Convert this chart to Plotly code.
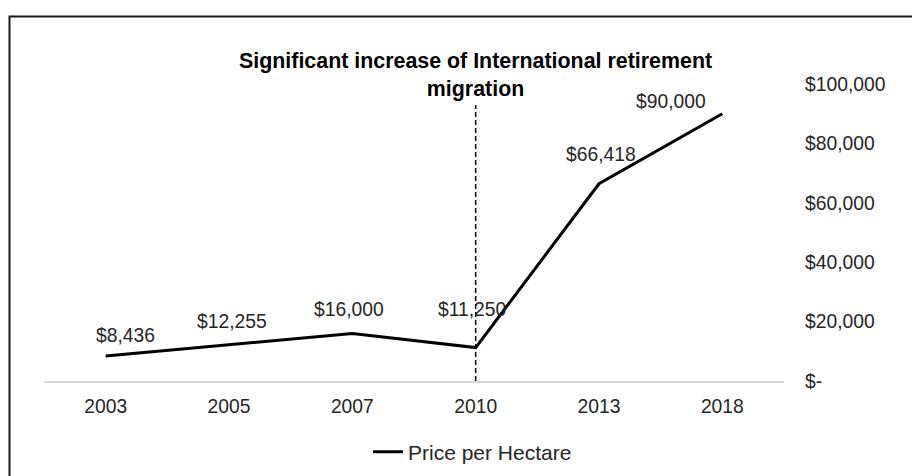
import plotly.graph_objects as go

years = ["2003", "2005", "2007", "2010", "2013", "2018"]
price = [8436, 12255, 16000, 11250, 66418, 90000]
y_ticks = [0, 20000, 40000, 60000, 80000, 100000]
y_tick_text = ["$-", "$20,000", "$40,000", "$60,000", "$80,000", "$100,000"]
series_name = "Price per Hectare"
title_text = "Significant increase of International retirement<br>migration"
marker_year = "2010"

# label offsets in pixels (style only)
label_dx = [20, 3, -3, -4, 2, -51]
label_dy = [20, 23, 24, 38, 29, 12]

FONT = "Liberation Sans, Arial, sans-serif"
TXT = "#262626"
FS = 19.3

W, H = 912, 476
L, R, T, B = 44, 128, 84, 95
pw, ph = W - L - R, H - T - B

def px_x(px):
    return (px - L) / pw

def px_y(py):
    return (H - B - py) / ph

xi = list(range(len(years)))
mi = years.index(marker_year)

fig = go.Figure()
fig.add_trace(go.Scatter(
    x=xi, y=price, mode="lines", name=series_name,
    line=dict(color="black", width=3),
    cliponaxis=False,
))

for x, v, dx, dy in zip(xi, price, label_dx, label_dy):
    fig.add_annotation(x=x, y=v, text=f"${v:,}", showarrow=False,
                       xshift=dx, yshift=dy, yanchor="middle",
                       font=dict(family=FONT, size=FS, color=TXT))

fig.add_annotation(x=mi, xref="x", y=px_y(74.5), yref="paper",
                   text=title_text, showarrow=False, yanchor="middle",
                   font=dict(family=FONT, size=21.4, color="black", weight="bold"))

fig.add_shape(type="line", xref="x", yref="paper", x0=mi, x1=mi,
              y0=0, y1=px_y(105), line=dict(color="black", width=1.5, dash="5px,3px"))

fig.add_shape(type="rect", xref="paper", yref="paper",
              x0=px_x(9.5), x1=px_x(925), y0=px_y(490), y1=px_y(16.5),
              line=dict(color="#1a1a1a", width=2), layer="above")

fig.update_layout(
    width=W, height=H,
    margin=dict(l=L, r=R, t=T, b=B, autoexpand=False),
    paper_bgcolor="white", plot_bgcolor="white",
    font=dict(family=FONT, size=FS, color=TXT),
    showlegend=True,
    legend=dict(orientation="h", x=px_x(368), xanchor="left", y=px_y(452), yanchor="middle",
                xref="paper", yref="paper", font=dict(size=21, color=TXT),
                itemwidth=30, bgcolor="rgba(0,0,0,0)"),
    xaxis=dict(range=[-0.5, len(years) - 0.5], tickvals=xi, ticktext=years,
               showgrid=False, showline=True, linecolor="#d9d9d9", linewidth=1.5,
               ticks="", ticklabelstandoff=7, zeroline=False, automargin=False,
               tickfont=dict(size=FS, color=TXT)),
    yaxis=dict(side="right", range=[0, 100000], tickvals=y_ticks, ticktext=y_tick_text,
               showgrid=False, showline=False, zeroline=False, ticks="", automargin=False,
               ticklabelstandoff=20, tickfont=dict(size=FS, color=TXT)),
)

fig.write_html("out.html")
